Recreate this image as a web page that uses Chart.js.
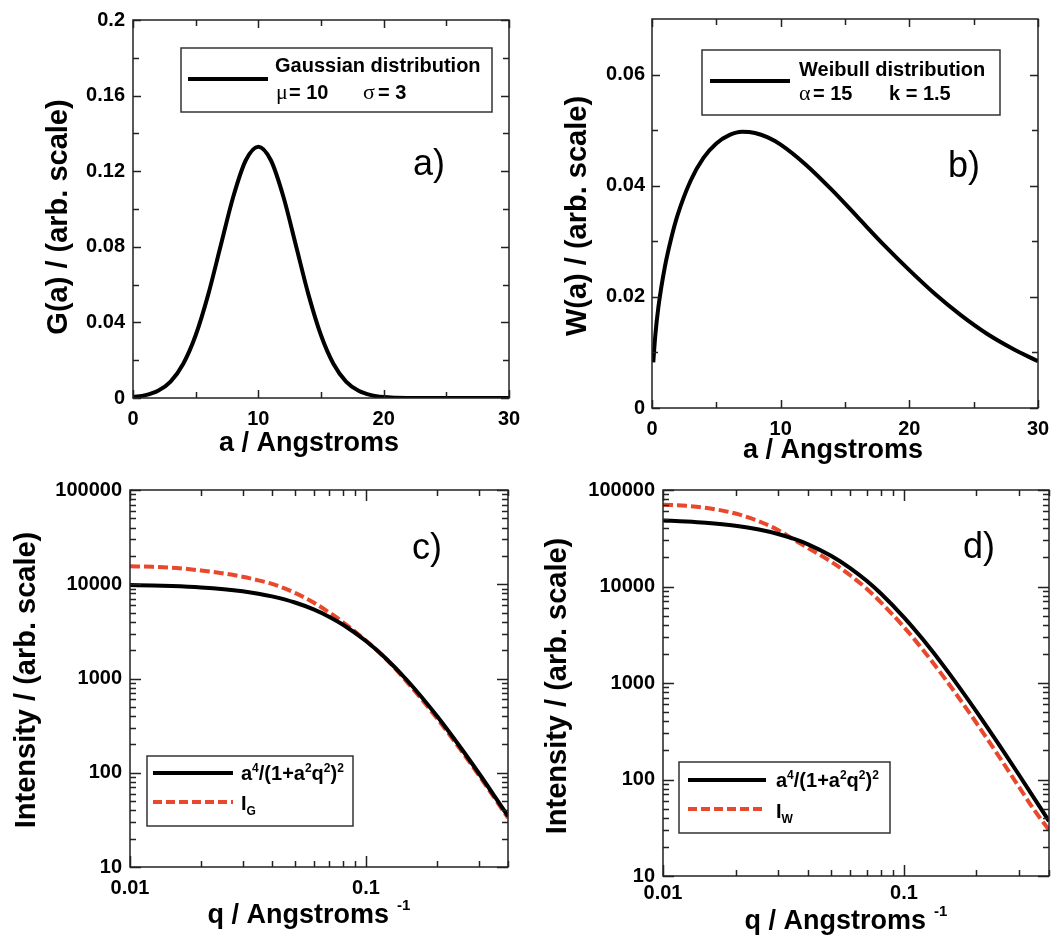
<!DOCTYPE html>
<html>
<head>
<meta charset="utf-8">
<script src="https://cdn.jsdelivr.net/npm/chart.js@4.4.0/dist/chart.umd.min.js"></script>
<style>
  body { margin: 0; background: #fff; width: 1063px; height: 941px; position: relative; overflow: hidden; }
  canvas { position: absolute; }
</style>
</head>
<body>
<canvas id="pa" width="531" height="470" style="left:0px;top:0px"></canvas>
<canvas id="pb" width="532" height="470" style="left:531px;top:0px"></canvas>
<canvas id="pc" width="531" height="471" style="left:0px;top:470px"></canvas>
<canvas id="pd" width="532" height="471" style="left:531px;top:470px"></canvas>
<script>
// ---- data ----
// a) Gaussian size distribution (mu = 10, sigma = 3)
const gaussX = [0,1,2,3,4,5,6,7,8,9,10,11,12,13,14,15,16,17,18,19,20,21,22,23,24,25,26,27,28,29,30];
const gaussY = [0.0005,0.0015,0.0038,0.0087,0.0180,0.0332,0.0547,0.0807,0.1065,0.1258,0.1330,0.1258,0.1065,0.0807,0.0547,0.0332,0.0180,0.0087,0.0038,0.0015,0.0005,0.00016,0.00004,0,0,0,0,0,0,0,0];

// b) Weibull distribution (alpha = 15, k = 1.5)
const weibX = [0.1,0.25,0.5,1,1.5,2,3,4,5,6,7,8,9,10,12,14,16,18,20,22,24,26,28,30];
const weibY = [0.0082,0.0129,0.0182,0.0254,0.0306,0.0348,0.0409,0.0450,0.0476,0.0491,0.0497,0.0495,0.0487,0.0474,0.0437,0.0392,0.0343,0.0294,0.0248,0.0205,0.0167,0.0134,0.0107,0.0084];

// c) intensities, gaussian case
const qC   = [0.01,0.0125,0.015,0.02,0.025,0.03,0.035,0.04,0.05,0.06,0.07,0.08,0.1,0.12,0.15,0.2,0.25,0.3,0.35,0.4];
const fitC = [9803,9695,9565,9246,8858,8417,7937,7432,6400,5407,4504,3718,2500,1680,947,400,190,100,56.9,34.6];
const igC  = [15500,15300,15000,14000,13000,12000,11000,10100,8100,6400,5000,3950,2520,1670,905,378,180,95,54.3,33.2];

// d) intensities, weibull case
const qD   = [0.01,0.0125,0.015,0.02,0.025,0.03,0.035,0.04,0.05,0.06,0.07,0.08,0.1,0.12,0.15,0.2,0.25,0.3,0.35,0.4];
const fitD = [48421,47245,45863,42610,38911,35010,31111,27371,20736,15453,11452,8503,4793,2816,1377,506,223,112,62,37];
const iwD  = [70500,68500,65500,57000,47500,38500,30500,25000,18000,13000,9500,6900,3800,2200,1060,385,168,84,47,30];

// ---- axis ticks ----
const linX = [0,10,20,30], linXMinor = [5,15,25], linXLabels = ['0','10','20','30'];
const aY = [0,0.04,0.08,0.12,0.16,0.2], aYMinor = [0.02,0.06,0.1,0.14,0.18];
const aYLabels = ['0','0.04','0.08','0.12','0.16','0.2'];
const bY = [0,0.02,0.04,0.06], bYMinor = [0.01,0.03,0.05], bYLabels = ['0','0.02','0.04','0.06'];
const logY = [10,100,1000,10000,100000], logYLabels = ['10','100','1000','10000','100000'];
const logX = [0.01,0.1], logXLabels = ['0.01','0.1'];
const logXMinor = [0.02,0.03,0.04,0.05,0.06,0.07,0.08,0.09,0.2,0.3,0.4];
const logYMinor = [];
for (let d = 10; d < 100000; d *= 10) {
    for (let m = 2; m <= 9; m++) logYMinor.push(d * m);
}

const FAM = '"Liberation Sans", Arial, Helvetica, sans-serif';
const SERIF = '"Liberation Serif", "Times New Roman", serif';
const RED = '#e8482b';

function pts(xs, ys) {
    return xs.map((x, i) => ({x: x, y: ys[i]}));
}

function box(ctx, x, y, w, h) {
    ctx.fillStyle = '#fff';
    ctx.fillRect(x, y, w, h);
    ctx.strokeStyle = '#333';
    ctx.lineWidth = 1.5;
    ctx.setLineDash([]);
    ctx.strokeRect(x, y, w, h);
}

function sample(ctx, x1, x2, y, color, dash) {
    ctx.strokeStyle = color;
    ctx.lineWidth = 4;
    ctx.setLineDash(dash);
    ctx.beginPath();
    ctx.moveTo(x1, y);
    ctx.lineTo(x2, y);
    ctx.stroke();
    ctx.setLineDash([]);
}

// pieces: [text, shift] shift 1 = superscript, -1 = subscript
function rich(ctx, parts, x, y, size) {
    ctx.fillStyle = '#000';
    ctx.textAlign = 'left';
    ctx.textBaseline = 'alphabetic';
    let cx = x;
    parts.forEach(p => {
        if (p[1] === 0) {
            ctx.font = 'bold ' + size + 'px ' + FAM;
            ctx.fillText(p[0], cx, y);
        } else {
            ctx.font = 'bold ' + Math.round(size * 0.6) + 'px ' + FAM;
            ctx.fillText(p[0], cx, p[1] > 0 ? y - size * 0.4 : y + size * 0.25);
        }
        cx += ctx.measureText(p[0]).width;
    });
}

const formula = [['a',0],['4',1],['/(1+a',0],['2',1],['q',0],['2',1],[')',0],['2',1]];

function legendA(ctx) {
    box(ctx, 181, 48, 311, 64);
    sample(ctx, 188, 268, 79, '#000', []);
    ctx.fillStyle = '#000';
    ctx.textAlign = 'left';
    ctx.font = 'bold 20px ' + FAM;
    ctx.fillText('Gaussian distribution', 275, 72);
    ctx.font = '22px ' + SERIF;
    ctx.fillText('\u03bc', 276, 99);
    ctx.fillText('\u03c3', 363, 99);
    ctx.font = 'bold 20px ' + FAM;
    ctx.fillText('= 10', 289, 99);
    ctx.fillText('= 3', 378, 99);
}

function legendB(ctx) {
    box(ctx, 171, 50, 298, 65);
    sample(ctx, 179, 259, 81, '#000', []);
    ctx.fillStyle = '#000';
    ctx.textAlign = 'left';
    ctx.font = 'bold 20px ' + FAM;
    ctx.fillText('Weibull distribution', 268, 76);
    ctx.font = '22px ' + SERIF;
    ctx.fillText('\u03b1', 268, 100);
    ctx.font = 'bold 20px ' + FAM;
    ctx.fillText('= 15', 282, 100);
    ctx.fillText('k = 1.5', 358, 100);
}

function legendC(ctx) {
    box(ctx, 147, 286, 206, 70);
    sample(ctx, 153, 233, 303, '#000', []);
    sample(ctx, 153, 233, 332, RED, [9, 4]);
    rich(ctx, formula, 241, 310, 20);
    rich(ctx, [['I',0],['G',-1]], 241, 340, 20);
}

function legendD(ctx) {
    box(ctx, 148, 292, 211, 71);
    sample(ctx, 157, 235, 310, '#000', []);
    sample(ctx, 157, 235, 339, RED, [9, 4]);
    rich(ctx, formula, 245, 317, 20);
    rich(ctx, [['I',0],['W',-1]], 245, 348, 20);
}

// frame, inward ticks, titles, legend and panel letter
const framePlugin = {
    id: 'frame',
    afterDatasetsDraw(chart, args, o) {
        const ctx = chart.ctx;
        const a = chart.chartArea;
        const xs = chart.scales.x, ys = chart.scales.y;
        ctx.save();
        ctx.strokeStyle = '#222';
        ctx.lineWidth = 1.5;
        ctx.setLineDash([]);
        ctx.strokeRect(a.left, a.top, a.right - a.left, a.bottom - a.top);

        ctx.beginPath();
        const tx = (vals, len) => vals.forEach(v => {
            const p = Math.round(xs.getPixelForValue(v)) + 0.5;
            ctx.moveTo(p, a.bottom); ctx.lineTo(p, a.bottom - len);
            ctx.moveTo(p, a.top); ctx.lineTo(p, a.top + len);
        });
        const ty = (vals, len) => vals.forEach(v => {
            const p = Math.round(ys.getPixelForValue(v)) + 0.5;
            ctx.moveTo(a.left, p); ctx.lineTo(a.left + len, p);
            ctx.moveTo(a.right, p); ctx.lineTo(a.right - len, p);
        });
        tx(o.xMajor, o.majLen); tx(o.xMinor, o.minLen);
        ty(o.yMajor, o.majLen); ty(o.yMinor, o.minLen);
        ctx.stroke();

        o.legend(ctx);

        ctx.fillStyle = '#000';
        ctx.font = '36px ' + FAM;
        ctx.textAlign = 'center';
        ctx.textBaseline = 'alphabetic';
        ctx.fillText(o.letter[0], o.letter[1], o.letter[2]);

        // y title
        ctx.save();
        ctx.translate(o.yTitle[1], o.yTitle[2]);
        ctx.rotate(-Math.PI / 2);
        ctx.font = 'bold 29px ' + FAM;
        ctx.textAlign = 'center';
        ctx.textBaseline = 'middle';
        ctx.fillText(o.yTitle[0], 0, 0);
        ctx.restore();

        // x title, optional superscript
        ctx.font = 'bold 27px ' + FAM;
        const w1 = ctx.measureText(o.xTitle[0]).width;
        ctx.font = 'bold 15px ' + FAM;
        const sup = o.xTitle[3] || '';
        const w2 = sup ? ctx.measureText(' ' + sup).width + 4 : 0;
        const x0 = o.xTitle[1] - (w1 + w2) / 2;
        ctx.textAlign = 'left';
        ctx.textBaseline = 'middle';
        ctx.font = 'bold 27px ' + FAM;
        ctx.fillText(o.xTitle[0], x0, o.xTitle[2]);
        if (sup) {
            ctx.font = 'bold 15px ' + FAM;
            ctx.fillText(sup, x0 + w1 + 8, o.xTitle[2] - 10);
        }
        ctx.restore();
    }
};

function makePanel(id, p) {
    const tickFont = {family: FAM, size: 20, weight: 'bold'};
    return new Chart(document.getElementById(id), {
        type: 'line',
        data: {datasets: p.datasets},
        options: {
            responsive: false,
            animation: false,
            devicePixelRatio: 1,
            layout: {padding: {top: p.top, right: p.right, left: 0, bottom: 0}},
            elements: {point: {radius: 0}},
            plugins: {legend: {display: false}, tooltip: {enabled: false}, frame: p.frame},
            scales: {
                x: {
                    type: p.xType, min: p.xMin, max: p.xMax,
                    afterBuildTicks: s => { s.ticks = p.xTicks.map(v => ({value: v})); },
                    afterFit: s => { s.height = p.xH; },
                    grid: {display: false, drawTicks: false},
                    border: {display: false},
                    ticks: {font: tickFont, color: '#000', padding: p.xPad, maxRotation: 0, autoSkip: false,
                            callback: (v, i) => p.xLabels[i]}
                },
                y: {
                    type: p.yType, min: p.yMin, max: p.yMax,
                    afterBuildTicks: s => { s.ticks = p.yTicks.map(v => ({value: v})); },
                    afterFit: s => { s.width = p.yW; },
                    grid: {display: false, drawTicks: false},
                    border: {display: false},
                    ticks: {font: tickFont, color: '#000', padding: p.yPad, autoSkip: false,
                            callback: (v, i) => p.yLabels[i]}
                }
            }
        },
        plugins: [framePlugin]
    });
}

function solid(data) {
    return {data: data, borderColor: '#000', borderWidth: 4, fill: false, cubicInterpolationMode: 'monotone'};
}
function dashed(data) {
    return {data: data, borderColor: RED, borderWidth: 4, borderDash: [10, 4], fill: false, cubicInterpolationMode: 'monotone'};
}

makePanel('pa', {
    datasets: [solid(pts(gaussX, gaussY))],
    xType: 'linear', xMin: 0, xMax: 30, xTicks: linX, xLabels: linXLabels, xH: 72, xPad: 9,
    yType: 'linear', yMin: 0, yMax: 0.2, yTicks: aY, yLabels: aYLabels, yW: 133, yPad: 8,
    top: 14, right: 22,
    frame: {xMajor: linX, xMinor: linXMinor, yMajor: aY, yMinor: aYMinor, majLen: 8, minLen: 6,
            legend: legendA, letter: ['a)', 429, 175],
            yTitle: ['G(a) / (arb. scale)', 59, 217], xTitle: ['a / Angstroms', 309, 444]}
});

makePanel('pb', {
    datasets: [solid(pts(weibX, weibY))],
    xType: 'linear', xMin: 0, xMax: 30, xTicks: linX, xLabels: linXLabels, xH: 62, xPad: 9,
    yType: 'linear', yMin: 0, yMax: 0.07, yTicks: bY, yLabels: bYLabels, yW: 121, yPad: 7,
    top: 14, right: 25,
    frame: {xMajor: linX, xMinor: linXMinor, yMajor: bY, yMinor: bYMinor, majLen: 8, minLen: 6,
            legend: legendB, letter: ['b)', 433, 177],
            yTitle: ['W(a) / (arb. scale)', 47, 216], xTitle: ['a / Angstroms', 302, 451]}
});

makePanel('pc', {
    datasets: [solid(pts(qC, fitC)), dashed(pts(qC, igC))],
    xType: 'logarithmic', xMin: 0.01, xMax: 0.4, xTicks: logX, xLabels: logXLabels, xH: 74, xPad: 9,
    yType: 'logarithmic', yMin: 10, yMax: 100000, yTicks: logY, yLabels: logYLabels, yW: 130, yPad: 8,
    top: 14, right: 23,
    frame: {xMajor: logX, xMinor: logXMinor, yMajor: logY, yMinor: logYMinor, majLen: 11, minLen: 6,
            legend: legendC, letter: ['c)', 427, 89],
            yTitle: ['Intensity / (arb. scale)', 27, 210], xTitle: ['q / Angstroms', 309, 446, '-1']}
});

makePanel('pd', {
    datasets: [solid(pts(qD, fitD)), dashed(pts(qD, iwD))],
    xType: 'logarithmic', xMin: 0.01, xMax: 0.4, xTicks: logX, xLabels: logXLabels, xH: 65, xPad: 5,
    yType: 'logarithmic', yMin: 10, yMax: 100000, yTicks: logY, yLabels: logYLabels, yW: 132, yPad: 8,
    top: 14, right: 14,
    frame: {xMajor: logX, xMinor: logXMinor, yMajor: logY, yMinor: logYMinor, majLen: 11, minLen: 6,
            legend: legendD, letter: ['d)', 448, 88],
            yTitle: ['Intensity / (arb. scale)', 27, 216], xTitle: ['q / Angstroms', 315, 452, '-1']}
});
</script>
</body>
</html>
